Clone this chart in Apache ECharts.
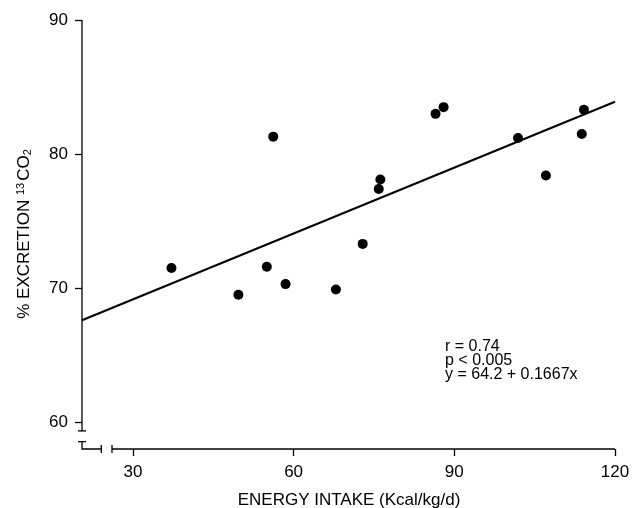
<!DOCTYPE html>
<html>
<head>
<meta charset="utf-8">
<script src="https://cdn.jsdelivr.net/npm/echarts@6/dist/echarts.min.js"></script>
<style>html,body{margin:0;padding:0;background:#fff;}#c{width:638px;height:508px;}</style>
</head>
<body>
<div id="c"></div>
<script>
// Data
const intake = [37.2, 49.7, 55.0, 56.2, 58.5, 67.9, 72.9, 75.9, 76.2, 86.5, 88.0, 101.9, 107.1, 113.8, 114.2];
const excretion = [71.5, 69.5, 71.6, 81.3, 70.3, 69.9, 73.3, 77.4, 78.1, 83.0, 83.5, 81.2, 78.4, 81.5, 83.3];
const fitX = [20.5, 120];
const fitY = [67.6, 83.9];
const xTicks = [30, 60, 90, 120];
const yTicks = [60, 70, 80, 90];
const xRange = [20.5, 120];
const yRange = [58, 90];
const xBreak = [24.1, 26.1];
const yBreak = [59.35, 58.55];
const statsText = ['r = 0.74', 'p < 0.005', 'y = 64.2 + 0.1667x'];
const xTitle = 'ENERGY INTAKE (Kcal/kg/d)';

(function () {
const FONT = '"Liberation Sans", Arial, Helvetica, sans-serif';
const INK = '#000';
const chart = echarts.init(document.getElementById('c'), null, {renderer: 'canvas'});

const pts = intake.map((x, i) => [x, excretion[i]]);
const fit = fitX.map((x, i) => [x, fitY[i]]);

chart.setOption({
  animation: false,
  backgroundColor: '#fff',
  grid: {left: 82, right: 23, top: 20, bottom: 59, containLabel: false},
  xAxis: {
    type: 'value', min: xRange[0], max: xRange[1],
    axisLine: {show: false},
    splitLine: {show: false},
    axisTick: {show: true, inside: false, length: 7, customValues: xTicks, lineStyle: {color: INK, width: 1.3}},
    axisLabel: {show: true, customValues: xTicks, margin: 15, color: INK, fontSize: 17, fontFamily: FONT}
  },
  yAxis: {
    type: 'value', min: yRange[0], max: yRange[1],
    axisLine: {show: false},
    splitLine: {show: false},
    axisTick: {show: true, inside: false, length: 7, customValues: yTicks, lineStyle: {color: INK, width: 1.3}},
    axisLabel: {show: true, customValues: yTicks, margin: 14, color: INK, fontSize: 17, fontFamily: FONT}
  },
  series: [
    {type: 'line', data: fit, showSymbol: false, symbol: 'none', lineStyle: {color: INK, width: 2, opacity: 1}, clip: true, z: 2},
    {type: 'scatter', data: pts, symbol: 'circle', symbolSize: 10, itemStyle: {color: INK, opacity: 1}, z: 3}
  ]
});

function px(x, y) { return chart.convertToPixel({gridIndex: 0}, [x, y]); }

const xa = xRange[0], ya = yRange[0];
const pTop = px(xa, yRange[1]);
const yb1 = px(xa, yBreak[0]);
const yb2 = px(xa, yBreak[1]);
const corner = px(xa, ya);
const xb1 = px(xBreak[0], ya);
const xb2 = px(xBreak[1], ya);
const pRight = px(xRange[1], ya);
const ls = {stroke: INK, lineWidth: 1.3, fill: null};

chart.setOption({
  graphic: [
    {type: 'polyline', shape: {points: [pTop, yb1]}, style: ls},
    {type: 'line', shape: {x1: yb1[0] - 4, y1: yb1[1], x2: yb1[0] + 4, y2: yb1[1]}, style: ls},
    {type: 'line', shape: {x1: yb2[0] - 4, y1: yb2[1], x2: yb2[0] + 4, y2: yb2[1]}, style: ls},
    {type: 'polyline', shape: {points: [yb2, corner, xb1]}, style: ls},
    {type: 'line', shape: {x1: xb1[0], y1: xb1[1] - 4, x2: xb1[0], y2: xb1[1] + 4}, style: ls},
    {type: 'line', shape: {x1: xb2[0], y1: xb2[1] - 4, x2: xb2[0], y2: xb2[1] + 4}, style: ls},
    {type: 'polyline', shape: {points: [xb2, pRight]}, style: ls},
    {type: 'text', x: 349, y: 500, style: {text: xTitle, font: '17px ' + FONT, fill: INK, align: 'center', verticalAlign: 'middle'}},
    {type: 'text', x: 24, y: 234, rotation: Math.PI / 2,
     style: {text: '% EXCRETION {sup|13}CO{sub|2}', font: '17px ' + FONT, fill: INK, align: 'center', verticalAlign: 'middle',
       rich: {sup: {fontSize: 11, fontFamily: FONT, fill: INK, padding: [0, 2, 7, 0]}, sub: {fontSize: 11, fontFamily: FONT, fill: INK, padding: [7, 0, 0, 0]}}}},
    {type: 'text', x: 445, y: 340, style: {text: statsText.join('\n'), font: '16px ' + FONT, fill: INK, align: 'left', verticalAlign: 'top', lineHeight: 14}}
  ]
});
})();
</script>
</body>
</html>
